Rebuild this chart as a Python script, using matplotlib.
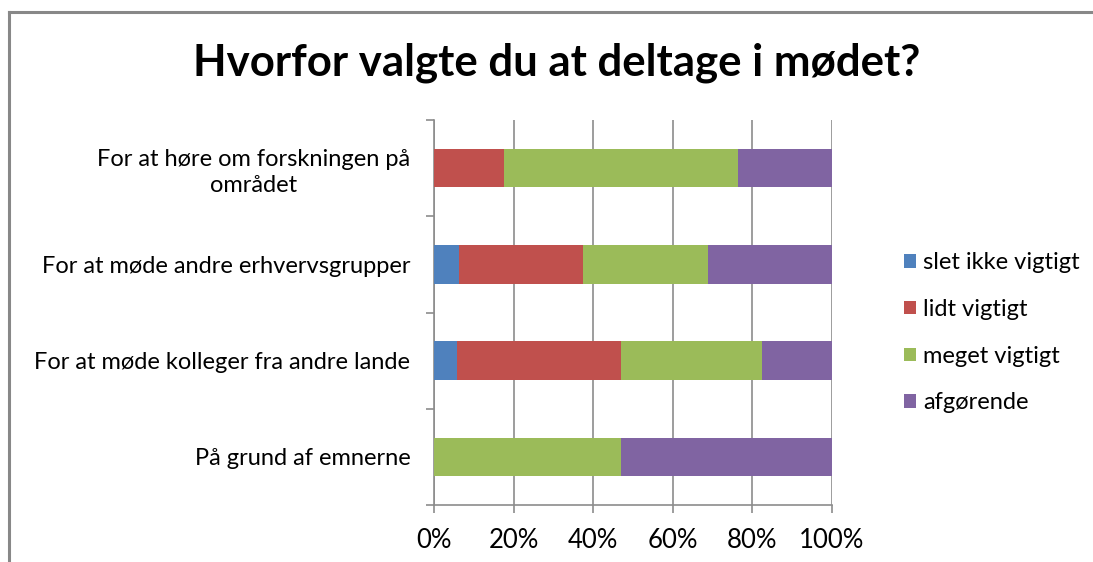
import matplotlib
matplotlib.use("Agg")
import matplotlib.pyplot as plt
from matplotlib.lines import Line2D
from matplotlib.patches import Patch
import numpy as np

plt.rcParams['font.family'] = ['Lato', 'DejaVu Sans']

title = "Hvorfor valgte du at deltage i mødet?"
categories = [
    "For at høre om forskningen på\nområdet",
    "For at møde andre erhvervsgrupper",
    "For at møde kolleger fra andre lande",
    "På grund af emnerne",
]
series_names = ["slet ikke vigtigt", "lidt vigtigt", "meget vigtigt", "afgørende"]
# response counts per category (top to bottom)
slet_ikke = [0, 1, 1, 0]
lidt = [3, 5, 7, 0]
meget = [10, 5, 6, 8]
afgoerende = [4, 5, 3, 9]
colors = ["#4F81BD", "#C0504D", "#9BBB59", "#8064A2"]
xticks = [0, 20, 40, 60, 80, 100]

counts = np.array([slet_ikke, lidt, meget, afgoerende], dtype=float)
shares = counts / counts.sum(axis=0) * 100

W, H = 1093, 562
fig = plt.figure(figsize=(W / 100, H / 100), dpi=100)
ax = fig.add_axes([434 / W, 1 - 505 / H, (832 - 434) / W, (505 - 120) / H])

y = np.arange(len(categories))
left = np.zeros(len(categories))
for vals, name, col in zip(shares, series_names, colors):
    ax.barh(y, vals, left=left, height=0.4, color=col, label=name, zorder=3)
    left += vals

grey = "#8c8c8c"
ax.set_xlim(0, 100)
ax.set_ylim(len(categories) - 0.5, -0.5)
ax.set_xticks(xticks)
ax.xaxis.grid(True, color=grey, linewidth=1.2, zorder=0)
ax.tick_params(axis="x", length=6, color=grey, width=1.2, pad=10.5)
ax.set_xticklabels([f"{t}%" for t in xticks], fontsize=18.5)

ax.set_yticks(np.arange(-0.5, len(categories)), minor=True)
ax.tick_params(axis="y", which="minor", length=6, color=grey, width=1.2)
ax.set_yticks(y)
ax.tick_params(axis="y", which="major", length=0, pad=17)
ax.set_yticklabels(categories, fontsize=17, ha="right", ma="center",
                   linespacing=1.3)

for side in ["top", "right"]:
    ax.spines[side].set_visible(False)
for side in ["left", "bottom"]:
    ax.spines[side].set_color(grey)
    ax.spines[side].set_linewidth(1.2)

fig.text(557 / W, 1 - 63 / H, title, ha="center", va="center",
         fontsize=31.5, fontweight="bold")

handles = [Patch(facecolor=c, edgecolor="none") for c in colors]
fig.legend(handles, series_names, loc="upper left",
           bbox_to_anchor=(883 / W, 1 - 231 / H), frameon=False,
           fontsize=17, handlelength=0.5, handleheight=0.5,
           handletextpad=0.3, labelspacing=1.09)

# chart frame (left and top edges)
fig.add_artist(Line2D([9 / W, 9 / W], [0, 1 - 12 / H], color="#888888", linewidth=2.2))
fig.add_artist(Line2D([9 / W, 1], [1 - 12 / H, 1 - 12 / H], color="#888888", linewidth=2.2))

fig.savefig("out.png", dpi=100, facecolor="white")
